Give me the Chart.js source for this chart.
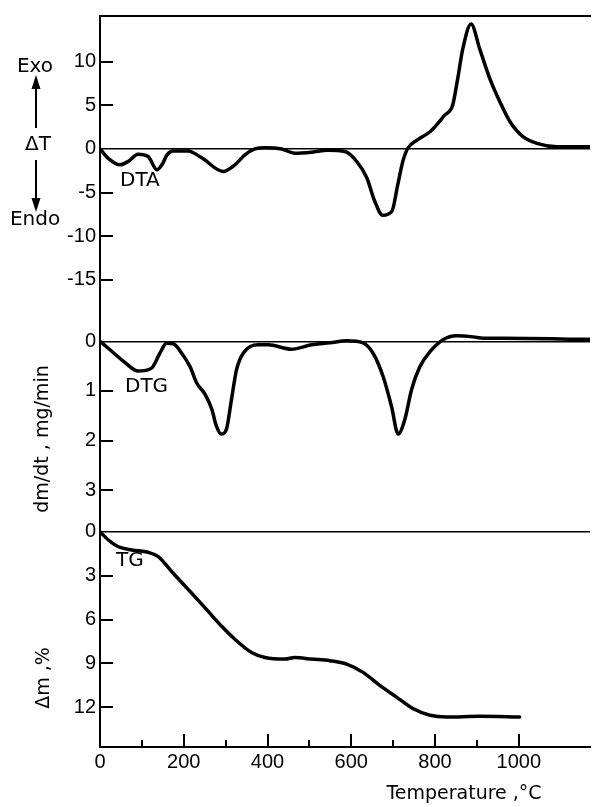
<!DOCTYPE html>
<html>
<head>
<meta charset="utf-8">
<script src="https://cdn.jsdelivr.net/npm/chart.js@4"></script>
<style>
html,body{margin:0;padding:0;background:#fff;}
#wrap{position:relative;width:593px;height:807px;}
</style>
</head>
<body>
<div id="wrap"><canvas id="c" width="593" height="807"></canvas></div>
<script>
// ---- Data ----
const xMax = 1170;
const xTicks = [0,100,200,300,400,500,600,700,800,900,1000];
const xLabels = [0,200,400,600,800,1000];

const dtaTicks = [-15,-10,-5,0,5,10];
const dtgTicks = [0,1,2,3];
const tgTicks = [0,3,6,9,12];

// DTA, ΔT
const dtaT = [0,19,48,67,91,115,136,148,160,174,210,243,294,322,346,370,394,434,465,506,544,585,613,637,656,675,697,711,723,735,757,788,823,842,854,866,886,907,931,955,979,1010,1043,1091,1169];
const dtaV = [0,-1.05,-1.82,-1.44,-0.6,-0.87,-2.39,-1.82,-0.68,-0.23,-0.23,-1.02,-2.58,-1.82,-0.68,0,0.15,0,-0.49,-0.37,-0.15,-0.3,-1.44,-3.3,-5.99,-7.6,-7.13,-4.09,-1.44,0.08,1.02,1.97,3.86,5.0,8.03,11.4,14.3,11.4,8.03,5.38,3.11,1.4,0.64,0.26,0.26];

// DTG, dm/dt (mg/min)
const dtgT = [0,28,60,91,123,143,159,175,195,215,231,251,267,278,290,302,314,326,342,378,402,457,505,549,589,628,652,676,696,712,728,744,764,788,819,851,891,915,962,1169];
const dtgV = [0,0.2,0.43,0.6,0.54,0.24,0.04,0.05,0.24,0.51,0.84,1.07,1.37,1.71,1.87,1.77,1.17,0.57,0.24,0.07,0.07,0.16,0.07,0.03,-0.01,0.03,0.24,0.71,1.31,1.87,1.57,0.97,0.51,0.21,-0.03,-0.11,-0.09,-0.06,-0.06,-0.04];

// TG, Δm (%)
const tgT = [0,20,44,76,115,139,171,211,251,290,322,362,394,442,465,505,549,589,628,668,708,748,788,827,907,1002];
const tgV = [0,0.56,1.02,1.24,1.40,1.69,2.71,3.95,5.2,6.44,7.34,8.25,8.59,8.70,8.59,8.70,8.81,9.04,9.61,10.5,11.3,12.1,12.54,12.66,12.61,12.66];

// ---- Styling ----
const tickFont = {family:'"Liberation Sans", Arial, sans-serif', size:20};
const textFamily = '"DejaVu Sans", sans-serif';

function pts(xs, ys){ return xs.map((t,i)=>({x:t, y:ys[i]})); }

const lineStyle = {
  borderColor:'#000', borderWidth:3.5, pointRadius:0, pointHoverRadius:0, fill:false,
  cubicInterpolationMode:'monotone', borderCapStyle:'round', borderJoinStyle:'round', xAxisID:'x'
};

function yAxis(ticksArr, min, max, weight, reverse){
  return {
    type:'linear', position:'left', stack:'panels', stackWeight:weight,
    min:min, max:max, reverse:reverse,
    afterBuildTicks: s => { s.ticks = ticksArr.map(v => ({value:v})); },
    afterFit: s => { s.width = 100; },
    ticks:{font:tickFont, color:'#000', padding:4, callback: v => String(v)},
    grid:{drawTicks:false, drawOnChartArea:true, lineWidth:1.5,
          color: c => (c.tick && c.tick.value === 0) ? '#000' : 'rgba(0,0,0,0)'},
    border:{display:true, color:'#000', width:2}
  };
}

const decor = {
  id:'decor',
  afterDraw(chart){
    const {ctx, chartArea:a, scales} = chart;
    ctx.save();
    ctx.strokeStyle = '#000';
    ctx.fillStyle = '#000';
    ctx.lineWidth = 2;
    ctx.lineCap = 'butt';
    const line = (x1,y1,x2,y2) => { ctx.beginPath(); ctx.moveTo(x1,y1); ctx.lineTo(x2,y2); ctx.stroke(); };
    // inward y tick marks
    ['yDTA','yDTG','yTG'].forEach(id => {
      const s = scales[id];
      s.ticks.forEach(t => {
        if (t.value === 0) return;
        const y = Math.round(s.getPixelForValue(t.value));
        line(a.left, y, a.left + 13, y);
      });
    });
    // inward x tick marks
    const sx = scales.x;
    sx.ticks.forEach(t => {
      if (t.value === 0) return;
      const x = Math.round(sx.getPixelForValue(t.value));
      const len = xLabels.includes(t.value) ? 13 : 7;
      line(x, a.bottom, x, a.bottom - len);
    });

    // Exo / ΔT / Endo block
    ctx.font = '20px ' + textFamily;
    ctx.textAlign = 'center';
    ctx.textBaseline = 'middle';
    ctx.fillText('Exo', 35, 67);
    ctx.fillText('\u0394T', 38, 145);
    ctx.fillText('Endo', 35, 220);
    line(36, 128, 36, 86);
    ctx.beginPath(); ctx.moveTo(36,75); ctx.lineTo(31.5,89); ctx.lineTo(40.5,89); ctx.closePath(); ctx.fill();
    line(36, 160, 36, 200);
    ctx.beginPath(); ctx.moveTo(36,212); ctx.lineTo(31.5,198); ctx.lineTo(40.5,198); ctx.closePath(); ctx.fill();

    // curve labels
    ctx.font = '20px ' + textFamily;
    ctx.textAlign = 'left';
    ctx.fillText('DTA', 120, 181);
    ctx.fillText('DTG', 125, 387);
    ctx.fillText('TG', 116, 561);

    // rotated axis titles
    ctx.font = '19px ' + textFamily;
    ctx.textAlign = 'center';
    ctx.textBaseline = 'alphabetic';
    ctx.save(); ctx.translate(48, 439); ctx.rotate(-Math.PI/2);
    ctx.fillText('dm/dt , mg/min', 0, 0); ctx.restore();
    ctx.save(); ctx.translate(49, 678); ctx.rotate(-Math.PI/2);
    ctx.fillText('\u0394m ,%', 0, 0); ctx.restore();

    // x title
    ctx.fillText('Temperature ,\u00B0C', 464, 799);
    ctx.restore();
  }
};

new Chart(document.getElementById('c'), {
  type:'line',
  data:{
    datasets:[
      Object.assign({label:'DTA', data:pts(dtaT, dtaV), yAxisID:'yDTA'}, lineStyle),
      Object.assign({label:'DTG', data:pts(dtgT, dtgV), yAxisID:'yDTG'}, lineStyle),
      Object.assign({label:'TG', data:pts(tgT, tgV), yAxisID:'yTG'}, lineStyle)
    ]
  },
  options:{
    responsive:false, animation:false, devicePixelRatio:1,
    layout:{padding:{top:10, right:3, left:0, bottom:0}},
    plugins:{legend:{display:false}, tooltip:{enabled:false}, title:{display:false}},
    scales:{
      x:{type:'linear', position:'bottom', min:0, max:xMax,
         afterBuildTicks: s => { s.ticks = xTicks.map(v => ({value:v})); },
         afterFit: s => { s.height = 60; },
         ticks:{font:tickFont, color:'#000', padding:3, maxRotation:0, autoSkip:false,
                callback: v => xLabels.includes(v) ? String(v) : ''},
         grid:{display:false, drawTicks:false},
         border:{display:true, color:'#000', width:2}},
      xTop:{type:'linear', position:'top', min:0, max:xMax,
         afterFit: s => { s.height = 0; },
         ticks:{display:false}, grid:{display:false, drawTicks:false},
         border:{display:true, color:'#000', width:2}},
      yTG: yAxis(tgTicks, -1.36, 14.71, 237, true),
      yDTG: yAxis(dtgTicks, -0.72, 3.44, 208, true),
      yDTA: yAxis(dtaTicks, -17.95, 15.23, 292, false)
    }
  },
  plugins:[decor]
});
</script>
</body>
</html>
